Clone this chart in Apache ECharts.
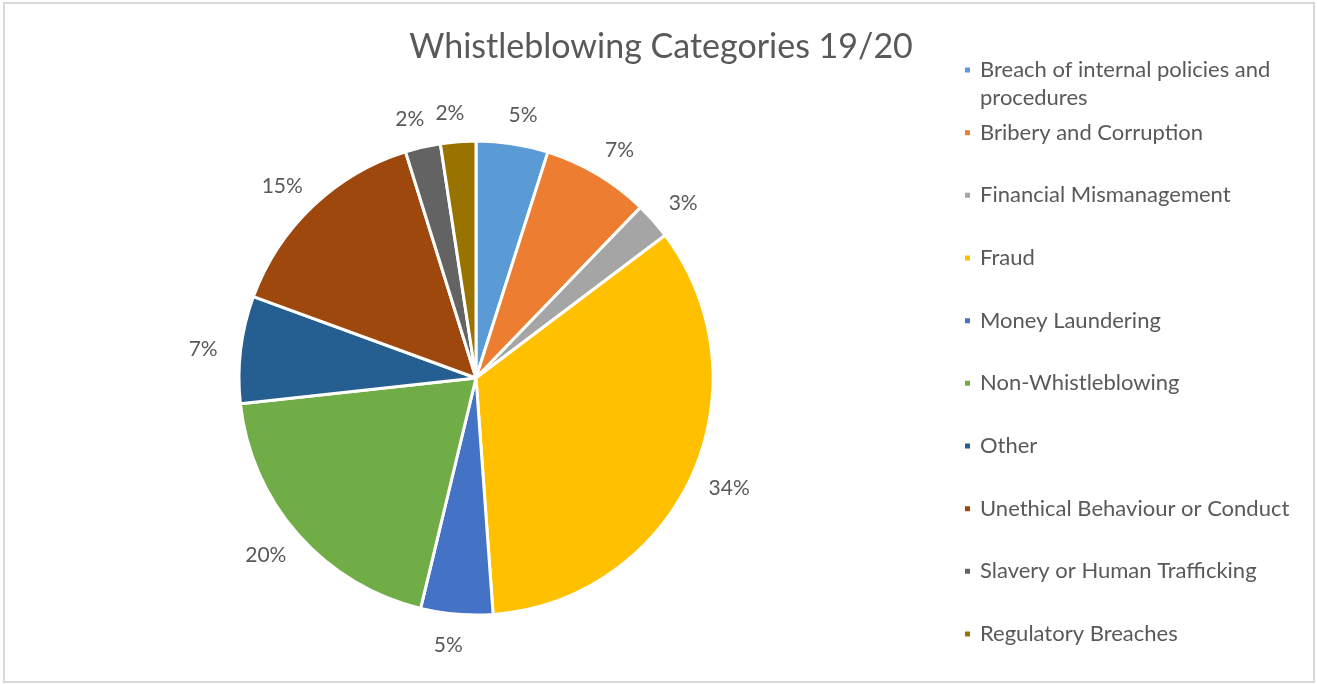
<!DOCTYPE html>
<html>
<head>
<meta charset="utf-8">
<script src="https://cdn.jsdelivr.net/npm/echarts@6/dist/echarts.min.js"></script>
<style>
html,body{margin:0;padding:0;background:#fff;}
#main{width:1317px;height:684px;}
</style>
</head>
<body>
<div id="main"></div>
<script>
const categories = [
  'Breach of internal policies and procedures',
  'Bribery and Corruption',
  'Financial Mismanagement',
  'Fraud',
  'Money Laundering',
  'Non-Whistleblowing',
  'Other',
  'Unethical Behaviour or Conduct',
  'Slavery or Human Trafficking',
  'Regulatory Breaches'
];
const shares = [4.9, 7.3, 2.5, 34.1, 4.9, 19.5, 7.3, 14.6, 2.4, 2.4];
const colors = ['#5B9BD5','#ED7D31','#A5A5A5','#FFC000','#4472C4','#70AD47','#255E91','#9E480E','#636363','#997300'];

const chart = echarts.init(document.getElementById('main'));
const FONT = 'Lato';
const legends = categories.map((name, i) => {
  const first = i === 0;
  const center = 70 + i * 62.67;
  return {
    orient: 'vertical',
    left: 963,
    top: first ? center - 42 : center - 14,
    padding: 0,
    itemWidth: 7,
    itemHeight: 7,
    icon: 'rect',
    selectedMode: false,
    data: [name],
    formatter: first ? '\nBreach of internal policies and\nprocedures' : '{name}',
    textStyle: {
      fontFamily: FONT,
      fontSize: 22,
      color: '#595959',
      lineHeight: 28,
      padding: [0, 0, 0, 4]
    }
  };
});

function placeLabel(params) {
  try {
    const data = chart.getModel().getSeriesByIndex(0).getData();
    const lay = data.getItemLayout(params.dataIndex);
    const mid = (lay.startAngle + lay.endAngle) / 2;
    const dx = Math.cos(mid), dy = Math.sin(mid);
    const w = params.labelRect.width;
    const d = lay.r + 32;
    return {
      x: lay.cx + dx * d + Math.sign(dx) * 0.4 * w / 2,
      y: lay.cy + dy * d - Math.sign(dy) * 2 + 1.5,
      align: 'center',
      verticalAlign: 'middle'
    };
  } catch (e) {
    return {};
  }
}

chart.setOption({
  animation: false,
  color: colors,
  title: {
    text: 'Whistleblowing Categories 19/20',
    left: 656,
    textAlign: 'center',
    top: 25,
    textStyle: { fontFamily: FONT, fontSize: 34, fontWeight: 'normal', color: '#595959' }
  },
  graphic: [{
    type: 'rect',
    shape: { x: 4, y: 3, width: 1310, height: 679 },
    style: { fill: 'none', stroke: '#d9d9d9', lineWidth: 2 },
    silent: true
  }],
  legend: legends,
  series: [{
    type: 'pie',
    center: [476, 378],
    radius: 237,
    startAngle: 90,
    clockwise: true,
    avoidLabelOverlap: false,
    data: categories.map((n, i) => ({ name: n, value: shares[i] })),
    itemStyle: { borderColor: '#ffffff', borderWidth: 3 },
    label: {
      show: true,
      position: 'outside',
      formatter: p => Math.round(p.value) + '%',
      fontFamily: FONT,
      fontSize: 21,
      color: '#595959',
      distanceToLabelLine: 4
    },
    labelLine: { show: false, length: 24, length2: 0 },
    labelLayout: placeLabel,
    emphasis: { disabled: true }
  }]
});
</script>
</body>
</html>
